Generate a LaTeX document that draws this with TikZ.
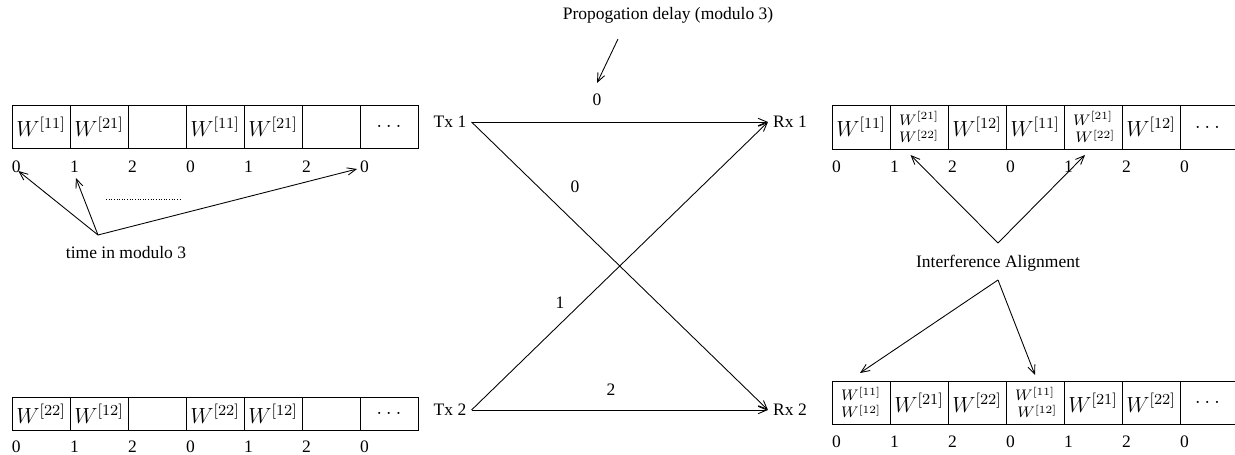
\documentclass[tikz,border=0pt]{standalone}
\usepackage{fix-cm}
\usepackage{amsmath}
\usepackage{fontspec}
\setmainfont{Liberation Serif}
\usetikzlibrary{arrows.meta}
\begin{document}
\begin{tikzpicture}[x=0.5714pt,y=-0.5714pt,line width=0.5pt,
  every node/.style={inner sep=0pt,outer sep=0pt,font=\fontsize{10}{12}\selectfont},
  cell/.style={draw,line width=0.5pt,anchor=north west,minimum width=33.14pt,font=\fontsize{12.5}{15}\selectfont},
  open/.style={anchor=north west,minimum width=31.4pt,font=\fontsize{12.5}{15}\selectfont},
  dig/.style={anchor=west},
  term/.style={inner sep=3pt},
  arr/.style={-{Straight Barb[length=5pt,width=4.2pt]}}]
\useasboundingbox (0,0) rectangle (1235,455);

% ---------- top-left strip ----------
\foreach \cont [count=\i from 0] in {$W^{[11]}$,$W^{[21]}$,{},$W^{[11]}$,$W^{[21]}$,{},$\ldots$}
  \node[cell,minimum height=24.57pt] (tl\i) at ({12+58*\i},105) {\cont};
\foreach \d [count=\i from 0] in {0,1,2,0,1,2,0}
  \node[dig] (tln\i) at ({12+58*\i},167) {\d};

% ---------- bottom-left strip ----------
\foreach \cont [count=\i from 0] in {$W^{[22]}$,$W^{[12]}$,{},$W^{[22]}$,$W^{[12]}$,{},$\ldots$}
  \node[cell,minimum height=18.86pt] (bl\i) at ({12+58*\i},397) {\cont};
\foreach \d [count=\i from 0] in {0,1,2,0,1,2,0}
  \node[dig] (bln\i) at ({12+58*\i},447) {\d};

% ---------- top-right strip ----------
\foreach \cont [count=\i from 0] in {$W^{[11]}$,$\genfrac{}{}{0pt}{}{W^{[21]}}{W^{[22]}}$,$W^{[12]}$,$W^{[11]}$,$\genfrac{}{}{0pt}{}{W^{[21]}}{\;W^{[22]}}$,$W^{[12]}$}
  \node[cell,minimum height=25.14pt] (tr\i) at ({832+58*\i},105) {\cont};
\node[open,minimum height=25.14pt] (tr6) at (1180,105) {$\ldots$};
\draw (tr6.north west) -- (tr6.north east) (tr6.south west) -- (tr6.south east);
\foreach \d [count=\i from 0] in {0,1,2,0,1,2,0}
  \node[dig] (trn\i) at ({832+58*\i},167) {\d};

% ---------- bottom-right strip ----------
\foreach \cont [count=\i from 0] in {$\genfrac{}{}{0pt}{}{W^{[11]}}{W^{[12]}}$,$W^{[21]}$,$W^{[22]}$,$\genfrac{}{}{0pt}{}{W^{[11]}}{\;W^{[12]}}$,$W^{[21]}$,$W^{[22]}$}
  \node[cell,minimum height=24.57pt] (br\i) at ({832+58*\i},381) {\cont};
\node[open,minimum height=24.57pt] (br6) at (1180,381) {$\ldots$};
\draw (br6.north west) -- (br6.north east) (br6.south west) -- (br6.south east);
\foreach \d [count=\i from 0] in {0,1,2,0,1,2,0}
  \node[dig] (brn\i) at ({832+58*\i},442) {\d};

% ---------- channel ----------
\node[term] (tx1) at (450,122) {Tx 1};
\node[term] (rx1) at (790,122) {Rx 1};
\node[term] (tx2) at (450,410) {Tx 2};
\node[term] (rx2) at (790,410) {Rx 2};
\draw[arr] (tx1.east) -- (rx1.west);
\draw[arr] (tx1.east) -- (rx2.west);
\draw[arr] (tx2.east) -- (rx1.west);
\draw[arr] (tx2.east) -- (rx2.west);
\node (d11) at (597,100) {0};
\node (d12) at (575,187) {0};
\node (d21) at (560,303) {1};
\node (d22) at (611,390) {2};

% propagation delay annotation
\node (prop) at (668,15) {Propogation delay (modulo 3)};
\coordinate (propa) at (618,39);
\draw[arr] (propa) -- ([shift={(0,-17)}]d11.center);

% time in modulo 3 annotation
\node (tim) at (126,253) {time in modulo 3};
\coordinate (tsrc) at (98,235);
\draw[arr] (tsrc) -- ([shift={(2,4)}]tln0.center);
\draw[arr] (tsrc) -- ([shift={(1.5,11)}]tln1.center);
\draw[arr] (tsrc) -- ([shift={(-3,2)}]tln6.west);
\coordinate (dota) at (106,199);
\coordinate (dotb) at (180,199);
\draw[densely dotted] (dota) -- (dotb);

% interference alignment annotation
\node (ia) at (998,263) {Interference Alignment};
\coordinate (ia1) at (998,243);
\coordinate (ia2) at (998,280);
\draw[arr] (ia1) -- ([shift={(-8.5,6)}]tr1.south);
\draw[arr] (ia1) -- ([shift={(-8,6)}]tr4.south);
\draw[arr] (ia2) -- ([shift={(-1,-8)}]br0.north);
\draw[arr] (ia2) -- ([shift={(0,-6)}]br3.north);
\end{tikzpicture}
\end{document}
